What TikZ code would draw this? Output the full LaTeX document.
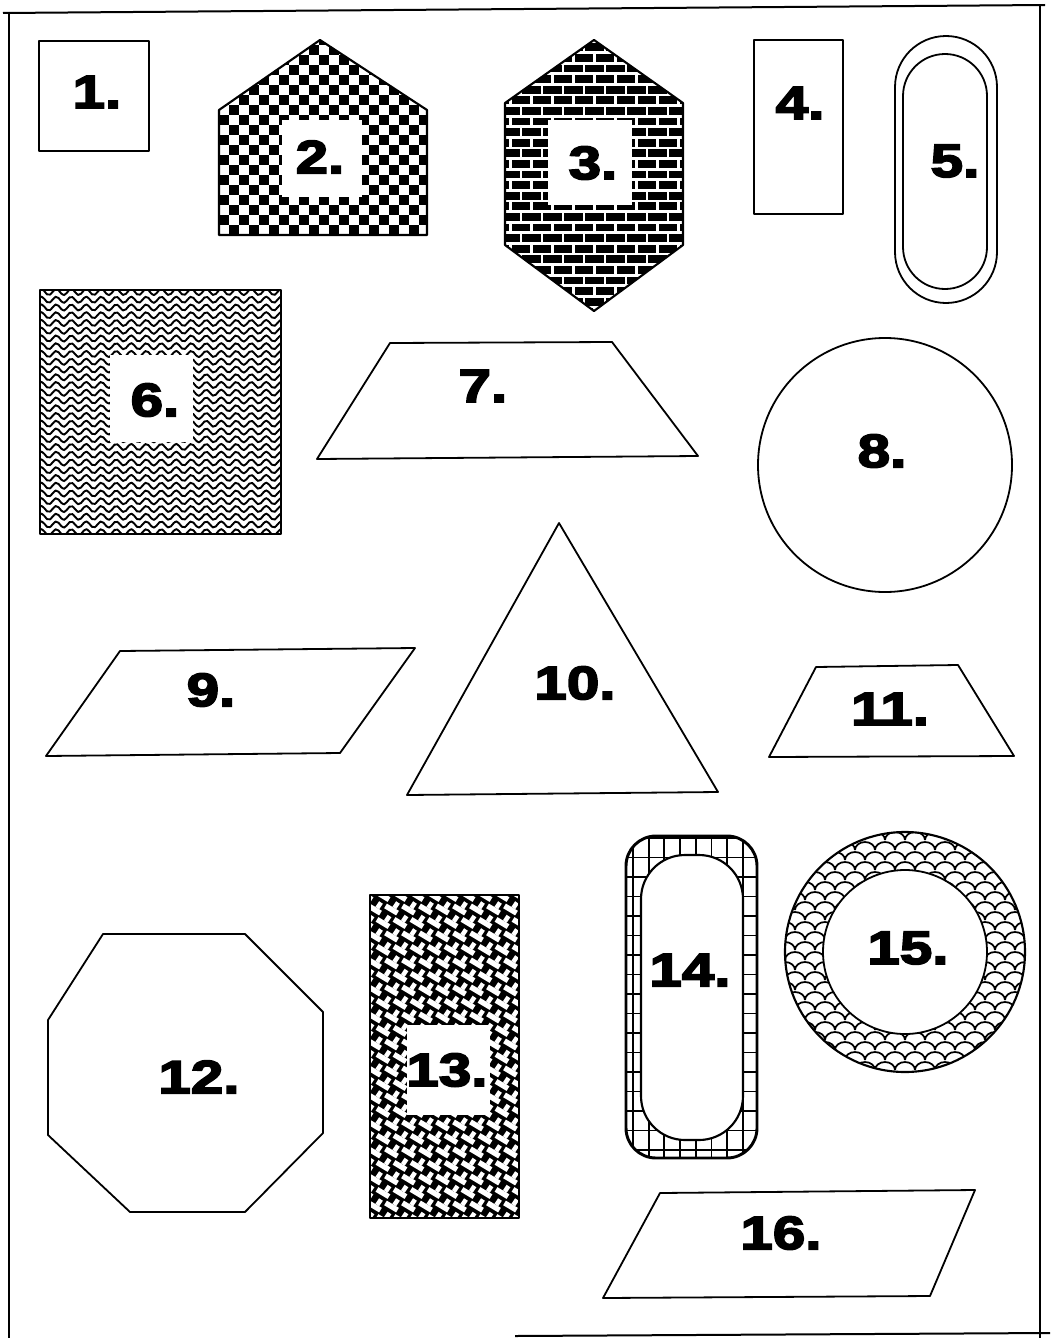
\documentclass[tikz,border=0pt]{standalone}
\usepackage{fontspec}
\newfontfamily\lblfont{Liberation Sans}[BoldFeatures={FakeBold=4,FakeStretch=1.25}]
\tikzset{
  shp/.style={draw=black, line width=1.6pt, line join=round},
  thin/.style={draw=black, line width=1.35pt, line join=round},
  lbl/.style={font=\lblfont\bfseries\fontsize{35}{35}\selectfont, inner sep=0pt, text=black},
  whitebox/.style={fill=white},
  frame/.style={draw=black, line width=1.5pt},
}
\begin{document}
\begin{tikzpicture}[x=0.75pt, y=-0.75pt]
\useasboundingbox (0,0) rectangle (1050,1338);
\fill[white] (0,0) rectangle (1050,1338);
% page frame
\draw[frame] (3,13) -- (1045,5);
\draw[frame] (9,12) -- (9,1338);
\draw[frame] (1040,6) -- (1040,1338);
\draw[frame] (515,1336) -- (1050,1333);

% 1
\draw[thin] (39,41) rectangle (149,151);
\node[lbl] (l1) at (97,92) {1.};

% 2 checker pentagon
\begin{scope}
  \clip (320,40) -- (427,110) -- (427,235) -- (219,235) -- (219,110) -- cycle;
  \foreach \i in {0,...,21} {
    \foreach \j in {0,...,20} {
      \pgfmathtruncatemacro\pc{\i+\j}
      \ifodd\pc\else \fill (219+\i*10, 35+\j*10) rectangle ++(10,10); \fi
    }
  }
\end{scope}
\fill[whitebox] (282,120) rectangle (362,197);
\draw[shp] (320,40) -- (427,110) -- (427,235) -- (219,235) -- (219,110) -- cycle;
\node[lbl] (l2) at (320,157) {2.};

% 3 brick hexagon
\fill[black] (594,40) -- (683,103) -- (683,245) -- (594,311) -- (505,245) -- (505,103) -- cycle;
\begin{scope}
  \clip (594,40) -- (683,103) -- (683,245) -- (594,311) -- (505,245) -- (505,103) -- cycle;
  \foreach \k in {0,...,26} {
    \pgfmathsetmacro\yy{42+\k*10.6}
    \pgfmathsetmacro\off{mod(\k,2)*10.5}
    \draw[white, line width=2.2pt] (500,\yy) -- (690,\yy);
    \foreach \m in {0,...,9} {
      \draw[white, line width=2.2pt] (500+\off+\m*21,\yy) -- ++(0,10.6);
    }
  }
\end{scope}
\fill[whitebox] (548,120) rectangle (632,205);
\draw[shp] (594,40) -- (683,103) -- (683,245) -- (594,311) -- (505,245) -- (505,103) -- cycle;
\node[lbl] (l3) at (593,163) {3.};

% 4
\draw[thin] (754,40) rectangle (843,214);
\node[lbl] (l4) at (800,103) {4.};

% 5 double stadium
\draw[thin, rounded corners=38.25pt] (895,36) rectangle (997,303);
\draw[thin, rounded corners=31.5pt] (903,54) rectangle (987,289);
\node[lbl] (l5) at (955,161) {5.};

% 6 wavy square
\begin{scope}
  \clip (40,290) rectangle (281,534);
  \foreach \r in {0,...,31} {
    \draw[line width=1.45pt] plot[domain=36:286, samples=90, smooth] (\x, {292+\r*7.75+3*sin(24*\x)});
  }
\end{scope}
\fill[whitebox] (110,355) rectangle (193,442);
\draw[shp] (40,290) rectangle (281,534);
\node[lbl] (l6) at (155,400) {6.};

% 7 trapezoid
\draw[thin] (390,343) -- (612,342) -- (698,456) -- (317,459) -- cycle;
\node[lbl] (l7) at (483,386) {7.};

% 8 circle
\draw[thin] (885,465) circle[radius=127];
\node[lbl] (l8) at (882,451) {8.};

% 9 parallelogram
\draw[thin] (120,651) -- (415,648) -- (340,753) -- (46,756) -- cycle;
\node[lbl] (l9) at (211,690) {9.};

% 10 triangle
\draw[thin] (559,523) -- (718,792) -- (407,795) -- cycle;
\node[lbl] (l10) at (575,683) {10.};

% 11 trapezoid
\draw[thin] (816,667) -- (958,665) -- (1014,756) -- (769,757) -- cycle;
\node[lbl] (l11) at (890,709) {11.};

% 12 octagon
\draw[thin] (103,934) -- (245,934) -- (323,1012) -- (323,1133) -- (245,1212) -- (130,1212) -- (48,1135) -- (48,1020) -- cycle;
\node[lbl] (l12) at (199,1077) {12.};

% 13 weave rectangle
\fill[black] (370,895) rectangle (519,1218);
\begin{scope}
  \clip (370,895) rectangle (519,1218);
  \foreach \j in {0,...,24} {
    \foreach \i in {0,...,9} {
      \pgfmathsetmacro\cx{366+\i*17+mod(\j,2)*8.5}
      \pgfmathsetmacro\cy{896+\j*13.5}
      \draw[white, line width=4pt] (\cx-6,\cy-3.6) -- (\cx+6,\cy+3.6);
      \draw[white, line width=3.4pt] (\cx+6.5,\cy-7) -- (\cx+2.8,\cy-1.5);
    }
  }
\end{scope}
\fill[whitebox] (407,1025) rectangle (490,1115);
\draw[shp] (370,895) rectangle (519,1218);
\node[lbl] (l13) at (447,1070) {13.};

% 14 grid rounded band
\begin{scope}
  \clip[rounded corners=22.5pt] (626,836) rectangle (757,1158);
  \foreach \i in {0,...,9} { \draw[line width=1.4pt] (633+\i*15.7,830) -- (633+\i*15.7,1165); }
  \foreach \j in {0,...,17} { \draw[line width=1.4pt] (620,838+\j*19.5) -- (765,838+\j*19.5); }
\end{scope}
\fill[white, rounded corners=33pt] (641,855) rectangle (743,1140);
\draw[shp] [rounded corners=33pt] (641,855) rectangle (743,1140);
\draw[line width=2.2pt, rounded corners=22.5pt] (626,836) rectangle (757,1158);
\node[lbl] (l14) at (690,970) {14.};

% 15 fish-scale ring
\begin{scope}
  \clip (905,952) circle[radius=120];
  \foreach \j in {0,...,26} {
    \foreach \i in {0,...,13} {
      \pgfmathsetmacro\xx{775+\i*20+mod(\j,2)*10}
      \pgfmathsetmacro\yy{830+\j*10}
      \draw[line width=1.3pt] (\xx,\yy) arc[start angle=180, end angle=360, x radius=10, y radius=8];
    }
  }
\end{scope}
\fill[white] (905,952) circle[radius=82];
\draw[thin] (905,952) circle[radius=82];
\draw[shp] (905,952) circle[radius=120];
\node[lbl] (l15) at (908,948) {15.};

% 16 parallelogram
\draw[thin] (660,1193) -- (975,1190) -- (930,1296) -- (603,1298) -- cycle;
\node[lbl] (l16) at (781,1233) {16.};
\end{tikzpicture}
\end{document}
